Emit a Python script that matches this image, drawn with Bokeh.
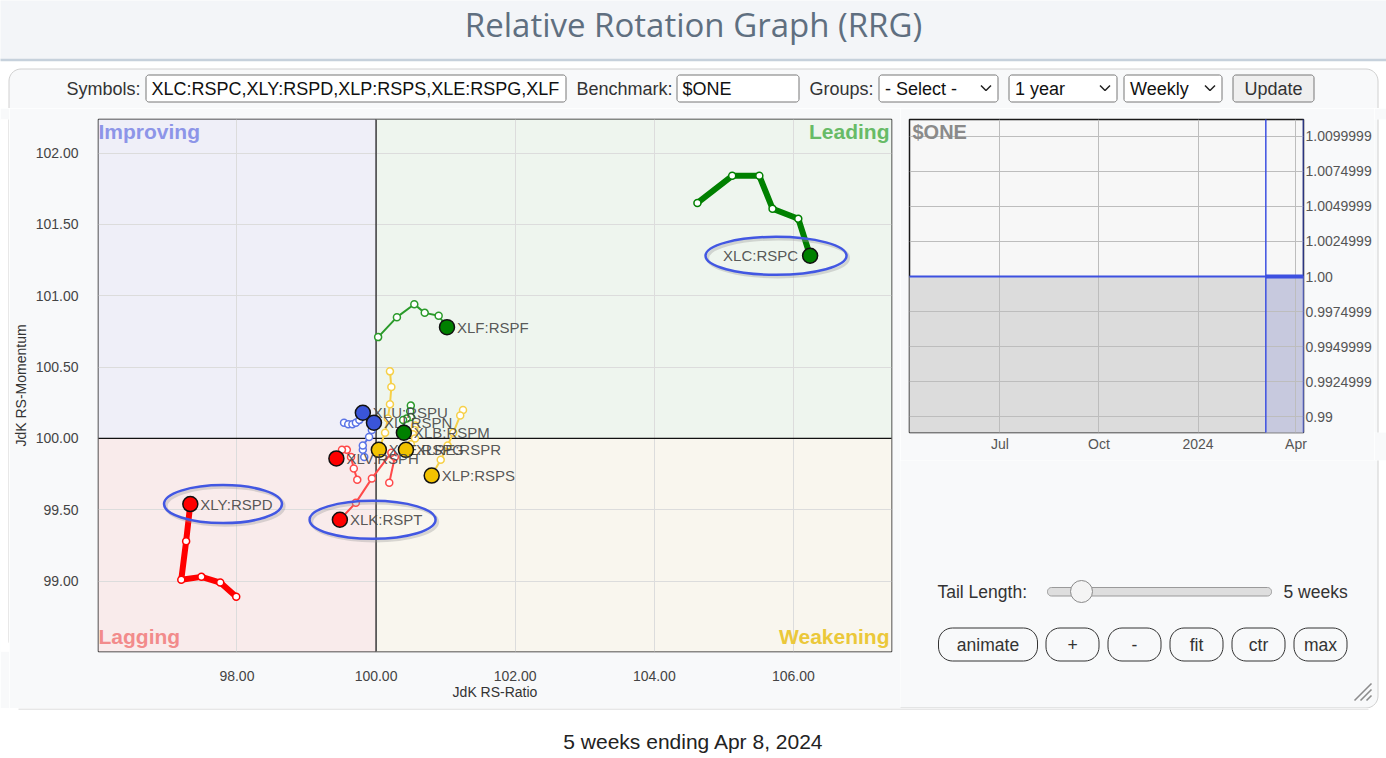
import numpy as np
import pandas as pd
from bokeh.plotting import figure
from bokeh.layouts import column, row
from bokeh.models import Range1d, FixedTicker, NumeralTickFormatter, Label
from bokeh.core.properties import value
from bokeh.embed import file_html
from bokeh.resources import INLINE

FONT = "Liberation Sans"
TFONT = "Open Sans"
PANEL = "#f8f9fa"
BORDER = "#d0d0d0"

# ---------------- data (JdK RS-Ratio / RS-Momentum, 5 weeks tail + head) ----------------
xlc_ratio = [104.62, 105.12, 105.51, 105.70, 106.07, 106.24]
xlc_mom = [101.65, 101.84, 101.84, 101.61, 101.54, 101.28]
xly_ratio = [97.99, 97.76, 97.49, 97.20, 97.27, 97.33]
xly_mom = [98.89, 98.99, 99.03, 99.01, 99.28, 99.54]
xlf_ratio = [100.03, 100.30, 100.55, 100.70, 100.90, 101.02]
xlf_mom = [100.71, 100.85, 100.94, 100.88, 100.86, 100.78]
xlk_ratio = [100.19, 100.27, 100.22, 99.94, 99.71, 99.48]
xlk_mom = [99.69, 99.87, 99.90, 99.72, 99.55, 99.43]
xlv_ratio = [99.73, 99.68, 99.64, 99.58, 99.51, 99.43]
xlv_mom = [99.71, 99.79, 99.87, 99.92, 99.92, 99.86]
xlp_ratio = [101.25, 101.21, 101.11, 101.03, 100.93, 100.80]
xlp_mom = [100.20, 100.16, 100.04, 99.95, 99.85, 99.74]
xle_ratio = [100.20, 100.22, 100.20, 100.17, 100.13, 100.04]
xle_mom = [100.47, 100.36, 100.24, 100.14, 100.04, 99.92]
xlre_ratio = [100.56, 100.55, 100.53, 100.56, 100.50, 100.43]
xlre_mom = [100.09, 100.06, 100.03, 100.00, 99.96, 99.92]
xlb_ratio = [100.50, 100.49, 100.50, 100.44, 100.39, 100.40]
xlb_mom = [100.23, 100.19, 100.15, 100.14, 100.13, 100.04]
xlu_ratio = [99.54, 99.60, 99.66, 99.71, 99.76, 99.81]
xlu_mom = [100.11, 100.10, 100.10, 100.11, 100.13, 100.18]
xli_ratio = [99.83, 99.81, 99.81, 99.90, 99.94, 99.97]
xli_mom = [99.87, 99.92, 99.95, 100.01, 100.06, 100.11]

x_ticks = [98, 100, 102, 104, 106]
y_ticks = [99.0, 99.5, 100.0, 100.5, 101.0, 101.5, 102.0]

# $ONE benchmark (constant 1.0), weekly
one_dates = pd.date_range("2023-04-03", "2024-04-08", freq="W-MON")
one_values = [1.0] * len(one_dates)
tail_start = pd.Timestamp("2024-03-04")
mini_y_ticks = [0.99, 0.9925, 0.995, 0.9975, 1.0, 1.0025, 1.005, 1.0075, 1.01]
mini_y_labels = ["0.99", "0.9924999", "0.9949999", "0.9974999", "1.00", "1.0024999",
                 "1.0049999", "1.0074999", "1.0099999"]
mini_x_ticks = [pd.Timestamp("2023-07-01"), pd.Timestamp("2023-10-01"),
                pd.Timestamp("2024-01-01"), pd.Timestamp("2024-04-01")]
mini_x_labels = ["Jul", "Oct", "2024", "Apr"]

GREEN, RED, YEL, BLUE = "#008000", "#ff0000", "#f2c200", "#3a55d8"
series = [
    ("XLU:RSPU", xlu_ratio, xlu_mom, BLUE, "#5b74e6", False, 1),
    ("XLI:RSPN", xli_ratio, xli_mom, BLUE, "#5b74e6", False, 1),
    ("XLE:RSPG", xle_ratio, xle_mom, YEL, "#f6d048", False, 1),
    ("XLRE:RSPR", xlre_ratio, xlre_mom, YEL, "#f6d048", False, 1),
    ("XLP:RSPS", xlp_ratio, xlp_mom, YEL, "#f6d048", False, 1),
    ("XLB:RSPM", xlb_ratio, xlb_mom, GREEN, "#2a9a2a", False, 1),
    ("XLF:RSPF", xlf_ratio, xlf_mom, GREEN, "#2a9a2a", False, 1),
    ("XLV:RSPH", xlv_ratio, xlv_mom, RED, "#ff4a4a", False, 1),
    ("XLK:RSPT", xlk_ratio, xlk_mom, RED, "#ff4a4a", False, 1),
    ("XLY:RSPD", xly_ratio, xly_mom, RED, "#ff0000", True, 1),
    ("XLC:RSPC", xlc_ratio, xlc_mom, GREEN, "#008000", True, -1),
]
circled = ["XLC:RSPC", "XLY:RSPD", "XLK:RSPT"]

X0, X1 = 96.01, 107.41
Y0, Y1 = 98.507, 102.235


def rounded(x0, y0, x1, y1, r, n=10):
    xs, ys = [], []
    for cx, cy, a0 in [(x1 - r, y0 + r, -90), (x1 - r, y1 - r, 0), (x0 + r, y1 - r, 90), (x0 + r, y0 + r, 180)]:
        for t in np.linspace(a0, a0 + 90, n):
            xs.append(cx + r * np.cos(np.radians(t)))
            ys.append(cy + r * np.sin(np.radians(t)))
    xs.append(xs[0]); ys.append(ys[0])
    return xs, ys


def canvas(w, h, x0, y0, bg="white"):
    f = figure(width=w, height=h, x_range=Range1d(x0, x0 + w), y_range=Range1d(y0 + h, y0),
               output_backend="svg", toolbar_location=None, min_border=0,
               x_axis_type=None, y_axis_type=None)
    f.outline_line_color = None
    f.background_fill_color = bg
    f.border_fill_color = bg
    return f


def txt(f, x, y, s, size, color="#333333", align="left", font=FONT, style="normal", baseline="middle"):
    f.text(x=[x], y=[y], text=[s], text_font=value(font), text_font_size=size, text_color=color,
           text_align=align, text_baseline=baseline, text_font_style=style)


def box(f, x0, y0, x1, y1, r, fill="white", line="#767676", lw=1):
    xs, ys = rounded(x0, y0, x1, y1, r)
    f.patch(xs, ys, fill_color=fill, line_color=line, line_width=lw)


# ---------------- top area ----------------
top = canvas(1386, 108, 0, 0)
top.quad(left=[-5], right=[1400], top=[-5], bottom=[59], fill_color="#f3f5f8", line_color=None)
top.line([-5, 1400], [59.5, 59.5], line_color="#c6d1dc", line_width=2.5)
xs, ys = rounded(8.5, 68.5, 1377.5, 160, 12)
top.patch(xs, ys, fill_color=PANEL, line_color=BORDER, line_width=1)
txt(top, 693, 24, "Relative Rotation Graph (RRG)", "33px", color="#5f6f80", align="center", font=TFONT)
txt(top, 66, 88, "Symbols:", "18px")
box(top, 145.5, 74.5, 565.5, 101.5, 3)
txt(top, 151, 88, "XLC:RSPC,XLY:RSPD,XLP:RSPS,XLE:RSPG,XLF", "18px", color="#111111")
txt(top, 576, 88, "Benchmark:", "18px")
box(top, 676.5, 74.5, 798.5, 101.5, 3)
txt(top, 682, 88, "$ONE", "18px", color="#111111")
txt(top, 809, 88, "Groups:", "18px")
for (a, b, label) in [(878.5, 997.5, "- Select -"), (1008.5, 1116.5, "1 year"), (1123.5, 1221.5, "Weekly")]:
    box(top, a, 74.5, b, 101.5, 3)
    txt(top, a + 6, 88, label, "18px", color="#111111")
    cx = b - 12
    top.line([cx - 5, cx, cx + 5], [85, 90, 85], line_color="#222222", line_width=1.5)
box(top, 1232.5, 74.5, 1313.5, 101.5, 3, fill="#efefef")
txt(top, 1273, 88, "Update", "18px", align="center")

# left edge of the panel
lstrip = canvas(9, 600, 0, 108, bg=PANEL)
lstrip.quad(left=[-5], right=[8.5], top=[100], bottom=[720], fill_color="white", line_color=None)
lcx = [8.5, 8.5] + list(20.5 - 12 * np.cos(np.radians(np.linspace(0, 90, 10))))
lcy = [100, 695.5] + list(695.5 + 12 * np.sin(np.radians(np.linspace(0, 90, 10))))
lstrip.patch(lcx + [-5, -5], lcy + [720, 100], fill_color="white", line_color=None)
lstrip.line(lcx, lcy, line_color=BORDER, line_width=1)

# ---------------- main RRG ----------------
main = figure(width=891, height=600, x_range=Range1d(X0, X1), y_range=Range1d(Y0, Y1),
              output_backend="svg", toolbar_location=None,
              min_border_left=88, min_border_right=9, min_border_top=11, min_border_bottom=57)
main.background_fill_color = PANEL
main.border_fill_color = PANEL
main.outline_line_color = "#1a1a1a"
main.outline_line_width = 1.5
main.xaxis.ticker = FixedTicker(ticks=x_ticks)
main.yaxis.ticker = FixedTicker(ticks=y_ticks)
main.xgrid.ticker = FixedTicker(ticks=x_ticks)
main.ygrid.ticker = FixedTicker(ticks=y_ticks)
for ax in (main.xaxis[0], main.yaxis[0]):
    ax.formatter = NumeralTickFormatter(format="0.00")
    ax.axis_line_color = None
    ax.major_tick_line_color = None
    ax.minor_tick_line_color = None
    ax.major_tick_out = 0
    ax.major_tick_in = 0
    ax.major_label_text_font = FONT
    ax.major_label_text_font_size = "14px"
    ax.major_label_text_color = "#444444"
    ax.axis_label_text_font = FONT
    ax.axis_label_text_font_size = "14px"
    ax.axis_label_text_font_style = "normal"
    ax.axis_label_text_color = "#333333"
main.xaxis.axis_label = "JdK RS-Ratio"
main.yaxis.axis_label = "JdK RS-Momentum"
main.xaxis.major_label_standoff = 19
main.xaxis.axis_label_standoff = 0
main.yaxis.major_label_standoff = 20
main.yaxis.axis_label_standoff = 4
main.grid.grid_line_color = "#dcdcdc"
main.grid.grid_line_width = 1

main.quad(left=[X0 - 1, 100, X0 - 1, 100], right=[100, X1 + 1, 100, X1 + 1],
          bottom=[100, 100, Y0 - 1, Y0 - 1], top=[Y1 + 1, Y1 + 1, 100, 100],
          fill_color=["#efeff8", "#eef5ee", "#f9ebeb", "#f9f6ee"], line_color=None, level="image")
main.segment(x0=[100, X0 - 1], y0=[Y0 - 1, 100], x1=[100, X1 + 1], y1=[Y1 + 1, 100],
             line_color="#111111", line_width=1.2)

quad_labels = [("Improving", X0, Y1, "left", "top", 0, 0, "#8d95e8"),
               ("Leading", X1, Y1, "right", "top", -2, 0, "#67bb67"),
               ("Lagging", X0, Y0, "left", "bottom", 0, 4, "#f28b8b"),
               ("Weakening", X1, Y0, "right", "bottom", -2, 4, "#ebc83a")]
for t, x, y, al, bl, xo, yo, c in quad_labels:
    main.add_layout(Label(x=x, y=y, text=t, text_align=al, text_baseline=bl, x_offset=xo, y_offset=yo,
                          text_font=FONT, text_font_size="21px", text_font_style="bold", text_color=c))

# tails
for name, rx, my, col, lcol, thick, side in series:
    main.line(rx, my, line_color=lcol, line_width=6 if thick else 2, line_join="round", line_cap="round")
for name, rx, my, col, lcol, thick, side in series:
    main.scatter(rx[:-1], my[:-1], size=7, fill_color="white", line_color=lcol, line_width=1.5)
for name, rx, my, col, lcol, thick, side in series:
    main.scatter(rx[-1:], my[-1:], size=15, fill_color=col, line_color="#111111", line_width=1.5)
    main.text(x=rx[-1:], y=my[-1:], text=[name], x_offset=10 if side > 0 else -12,
              text_align="left" if side > 0 else "right", text_baseline="middle",
              text_font=value(FONT), text_font_size="15px", text_color="#444444", text_alpha=0.9)
# highlight ellipses
for name, rx, my, col, lcol, thick, side in series:
    if name in circled:
        cx = rx[-1] + (0.47 if side > 0 else -0.49)
        w = {"XLC:RSPC": 141, "XLY:RSPD": 118, "XLK:RSPT": 126}[name]
        main.ellipse(x=[cx + 0.03], y=[my[-1] - 0.015], width=w, height=38, width_units="screen",
                     height_units="screen", fill_color=None, line_color="#999999", line_alpha=0.35, line_width=3)
        main.ellipse(x=[cx], y=[my[-1]], width=w, height=38, width_units="screen",
                     height_units="screen", fill_color=None, line_color="#4257e2", line_width=2.5)

# ---------------- mini $ONE chart ----------------
MY0, MY1 = 0.98889, 1.01119
xr0, xr1 = pd.Timestamp("2023-04-08"), pd.Timestamp("2024-04-08")
mini = figure(width=474, height=352, x_axis_type="datetime", y_axis_location="right",
              x_range=Range1d(xr0, xr1), y_range=Range1d(MY0, MY1),
              output_backend="svg", toolbar_location=None,
              min_border_left=9, min_border_right=70, min_border_top=11, min_border_bottom=28)
mini.background_fill_color = "#f7f7f7"
mini.border_fill_color = PANEL
mini.outline_line_color = "#1a1a1a"
mini.outline_line_width = 1.5
mx_ms = [t.value // 10**6 for t in mini_x_ticks]
mini.xaxis.ticker = FixedTicker(ticks=mx_ms)
mini.xgrid.ticker = FixedTicker(ticks=mx_ms)
mini.xaxis.major_label_overrides = {m: l for m, l in zip(mx_ms, mini_x_labels)}
mini.yaxis.ticker = FixedTicker(ticks=mini_y_ticks)
mini.ygrid.ticker = FixedTicker(ticks=mini_y_ticks)
mini.yaxis.major_label_overrides = {v: l for v, l in zip(mini_y_ticks, mini_y_labels)}
for ax in (mini.xaxis[0], mini.yaxis[0]):
    ax.axis_line_color = None
    ax.major_tick_line_color = None
    ax.minor_tick_line_color = None
    ax.major_tick_out = 0
    ax.major_tick_in = 0
    ax.major_label_text_font = FONT
    ax.major_label_text_font_size = "14px"
    ax.major_label_text_color = "#555555"
mini.xaxis.major_label_standoff = 3
mini.yaxis.major_label_standoff = 2
mini.grid.grid_line_color = "#bdbdbd"
mini.grid.grid_line_width = 1

mini.varea(x=one_dates, y1=[MY0 - 1] * len(one_dates), y2=one_values, fill_color="#dcdcdc", level="underlay")
tail_mask = one_dates >= tail_start
tail_dates = one_dates[tail_mask]
tail_vals = [v for v, m in zip(one_values, tail_mask) if m]
mini.varea(x=tail_dates, y1=[MY0 - 1] * len(tail_dates), y2=tail_vals, fill_color="#c7c9de", level="underlay")
mini.line(one_dates, one_values, line_color="#3d50e0", line_width=2)
mini.line(tail_dates, tail_vals, line_color="#3d50e0", line_width=4)
mini.segment(x0=[tail_start, one_dates[-1]], y0=[MY0 - 1, MY0 - 1], x1=[tail_start, one_dates[-1]],
             y1=[MY1 + 1, MY1 + 1], line_color="#3d50e0", line_width=1.5)
mini.add_layout(Label(x=xr0, y=MY1, text="$ONE", x_offset=3, y_offset=-1, text_baseline="top",
                      text_font=FONT, text_font_size="20px", text_font_style="bold", text_color="#8a8a8a"))

strip = canvas(12, 352, 1374, 108, bg=PANEL)
strip.quad(left=[1377.5], right=[1400], top=[100], bottom=[470], fill_color="white", line_color=None)
strip.line([1377.5, 1377.5], [100, 470], line_color=BORDER, line_width=1)

# ---------------- controls ----------------
ctl = canvas(486, 248, 900, 460, bg=PANEL)
cxs = [880, 1365.5] + list(1365.5 + 12 * np.cos(np.radians(np.linspace(90, 0, 10)))) + [1377.5]
cys = [707.5, 707.5] + list(695.5 + 12 * np.sin(np.radians(np.linspace(90, 0, 10)))) + [450]
ctl.patch(cxs + [1400, 1400, 880], cys + [450, 720, 720], fill_color="white", line_color=None)
ctl.line(cxs, cys, line_color=BORDER, line_width=1)
txt(ctl, 937, 591, "Tail Length:", "17.5px")
box(ctl, 1047, 587, 1271, 595.5, 4, fill="#dedede", line="#9a9a9a")
ctl.scatter([1081], [591], size=22, fill_color="#f4f4f4", line_color="#8a8a8a", line_width=1)
txt(ctl, 1283, 591, "5 weeks", "17.5px")
for a, b, label in [(938, 1037, "animate"), (1045.5, 1098.5, "+"), (1107.5, 1160.5, "-"),
                    (1169.5, 1222.5, "fit"), (1231.5, 1284.5, "ctr"), (1293.5, 1346.5, "max")]:
    box(ctl, a, 627.5, b, 660.5, 14, fill=PANEL, line="#333333")
    txt(ctl, (a + b) / 2, 644, label, "17.5px", align="center")
for d in (0, 6, 12):
    ctl.line([1354 + d, 1371], [700, 683 + d], line_color="#8c8c8c", line_width=1.6)

# ---------------- bottom ----------------
bottom = canvas(1386, 48, 0, 708)
bottom.line([18, 1368], [708.5, 708.5], line_color=BORDER, line_width=1)
txt(bottom, 693, 741, "5 weeks ending Apr 8, 2024", "21px", color="#222222", align="center")

right_col = column(row(mini, strip, spacing=0), ctl, spacing=0)
root = column(top, row(lstrip, main, right_col, spacing=0), bottom, spacing=0)

open("out.html", "w").write(file_html(root, INLINE))
